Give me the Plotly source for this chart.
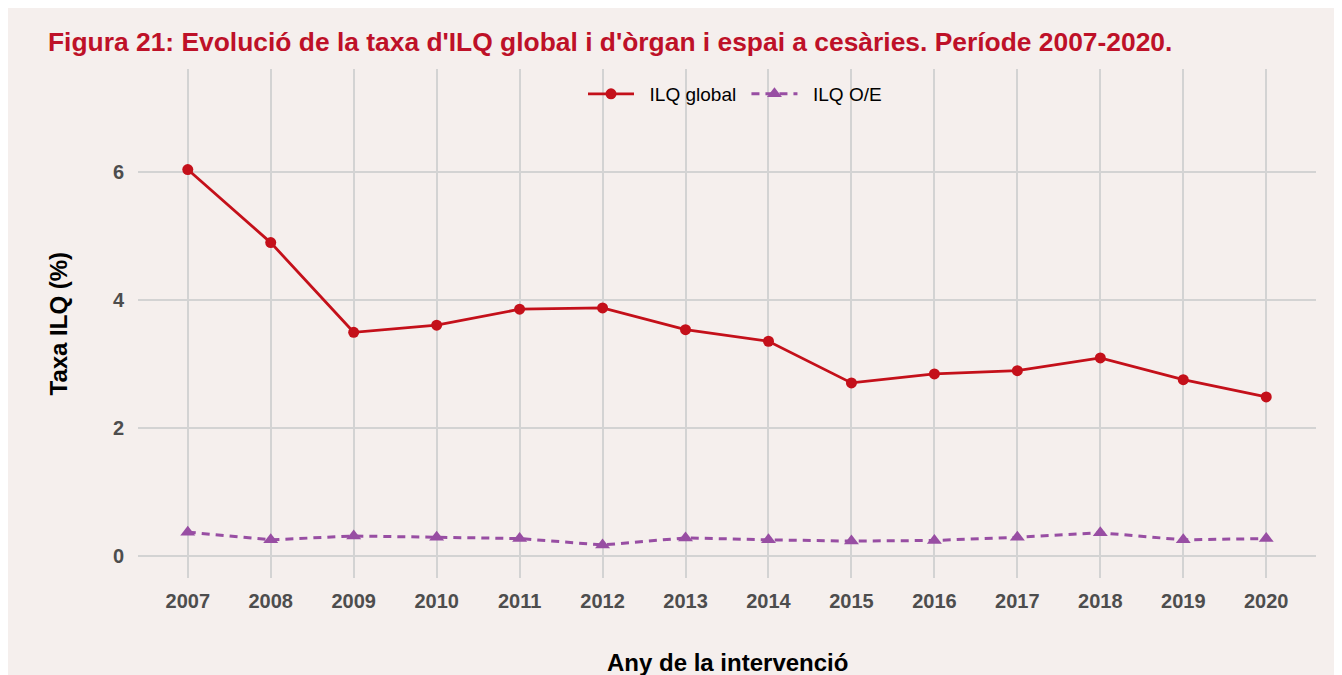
import plotly.graph_objects as go

years = [2007, 2008, 2009, 2010, 2011, 2012, 2013, 2014, 2015, 2016, 2017, 2018, 2019, 2020]
ilq_global = [6.04, 4.90, 3.50, 3.61, 3.86, 3.88, 3.54, 3.36, 2.71, 2.85, 2.90, 3.10, 2.76, 2.49]
ilq_oe = [0.38, 0.26, 0.32, 0.30, 0.28, 0.18, 0.29, 0.26, 0.24, 0.25, 0.30, 0.37, 0.26, 0.28]
y_ticks = [0, 2, 4, 6]

title_text = "Figura 21: Evolució de la taxa d'ILQ global i d'òrgan i espai a cesàries. Període 2007-2020."
x_title = "Any de la intervenció"
y_title = "Taxa ILQ (%)"
series_names = ["ILQ global", "ILQ O/E"]

BG = "#F5EFED"
FONT = "Liberation Sans, Arial, sans-serif"

W, H = 1342, 675
L, R, T, B = 130, 34, 61, 105
PW = W - L - R
PH = H - T - B

fig = go.Figure()
fig.add_trace(go.Scatter(
    x=years, y=ilq_global, name="\u00a0\u00a0" + series_names[0] + "\u00a0", mode="lines+markers",
    line=dict(color="#C4101A", width=2.8),
    marker=dict(symbol="circle", size=11, color="#C4101A"),
))
fig.add_trace(go.Scatter(
    x=years, y=ilq_oe, name="\u00a0\u00a0" + series_names[1], mode="lines+markers",
    line=dict(color="#984EA3", width=3, dash="8px,6px"),
    marker=dict(symbol="triangle-up", size=13, color="#984EA3"),
))

fig.update_layout(
    width=W, height=H,
    margin=dict(l=L, r=R, t=T, b=B, autoexpand=False),
    paper_bgcolor=BG,
    plot_bgcolor=BG,
    font=dict(family=FONT),
    title=dict(
        text="<b>" + title_text + "</b>",
        x=40 / W, xanchor="left", xref="container",
        y=1 - 34 / H, yanchor="middle", yref="container",
        font=dict(size=26.4, color="#BE1128", family=FONT),
    ),
    showlegend=True,
    legend=dict(
        orientation="h", x=0.5 + 8 / PW, xanchor="center", y=(T + PH - 86) / PH, yanchor="middle",
        bgcolor="rgba(0,0,0,0)", font=dict(size=19, color="black"),
        itemwidth=46, tracegroupgap=0,
    ),
    annotations=[
        dict(text="<b>" + x_title + "</b>", xref="paper", yref="paper",
             x=0.5, y=(T + PH - 654) / PH, xanchor="center", yanchor="middle",
             showarrow=False, font=dict(size=24, color="black", family=FONT)),
        dict(text="<b>" + y_title + "</b>", xref="paper", yref="paper",
             x=(50 - L) / PW, y=0.5, xanchor="center", yanchor="middle", textangle=-90,
             showarrow=False, font=dict(size=24, color="black", family=FONT)),
    ],
)

fig.update_xaxes(
    range=[2006.4, 2020.6], tickmode="array", tickvals=years,
    ticktext=["<b>%d</b>" % y for y in years],
    tickfont=dict(size=20, color="#4D4D4D", family=FONT),
    showgrid=True, gridcolor="#D3D3D3", gridwidth=2,
    zeroline=False, showline=False, ticks="", ticklabelstandoff=9,
)
fig.update_yaxes(
    range=[-0.336, 7.61], tickmode="array", tickvals=y_ticks,
    ticktext=["<b>%d</b>" % v for v in y_ticks],
    tickfont=dict(size=20, color="#4D4D4D", family=FONT),
    showgrid=True, gridcolor="#D3D3D3", gridwidth=2,
    zeroline=False, showline=False, ticks="", ticklabelstandoff=13,
)

fig.write_html("out.html")
